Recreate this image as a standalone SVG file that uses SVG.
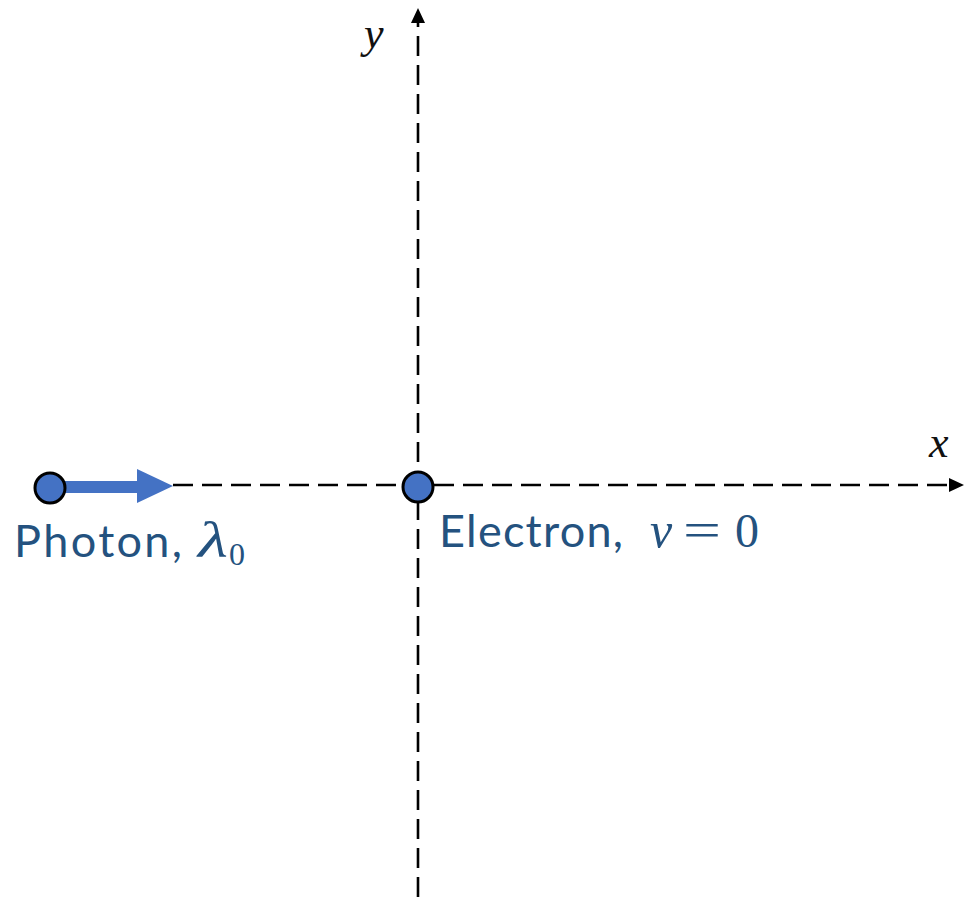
<svg xmlns="http://www.w3.org/2000/svg" width="964" height="899" viewBox="0 0 964 899">
<style>
.axis{stroke:#000;stroke-width:2.6;stroke-dasharray:20 9;fill:none}
.pt{fill:#4472C4;stroke:#000;stroke-width:3}
.lbl{font-family:"Lato","Open Sans",sans-serif;font-size:45px;fill:#24527F}
.m{font-family:"Liberation Serif","DejaVu Serif",serif;font-style:italic;fill:#24527F}
.mr{font-family:"Liberation Serif","DejaVu Serif",serif;fill:#24527F}
.ax{font-family:"Liberation Serif","DejaVu Serif",serif;font-style:italic;font-size:44px;fill:#111}
</style>
<g id="connectors">
<line class="axis" x1="173" y1="485" x2="950" y2="485"/>
<path d="M964,485 L949,478 L949,492 Z" fill="#000"/>
<line class="axis" x1="418" y1="897" x2="418" y2="22"/>
<path d="M418,8 L411,23 L425,23 Z" fill="#000"/>
<line x1="50" y1="487" x2="140" y2="487" stroke="#4472C4" stroke-width="12"/>
<path d="M137,469 L173,486 L137,503 Z" fill="#4472C4"/>
</g>
<g id="photon">
<circle class="pt" cx="50" cy="488" r="15"/>
<text class="lbl" x="14" y="557" textLength="168" lengthAdjust="spacing">Photon,</text>
<text class="m" x="198" y="557" font-size="50" textLength="30" lengthAdjust="spacingAndGlyphs">λ</text>
<text class="mr" x="229" y="565" font-size="32">0</text>
</g>
<g id="electron">
<circle class="pt" cx="418" cy="487" r="15"/>
<text class="lbl" x="439" y="547" textLength="184" lengthAdjust="spacing">Electron,</text>
<text class="m" x="650" y="547" font-size="50">v</text>
<text class="mr" x="683" y="547" font-size="50" textLength="38" lengthAdjust="spacingAndGlyphs">=</text>
<text class="mr" x="735" y="547" font-size="48">0</text>
</g>
<g id="labels">
<text class="ax" x="364" y="48">y</text>
<text class="ax" x="929" y="457">x</text>
</g>
</svg>
